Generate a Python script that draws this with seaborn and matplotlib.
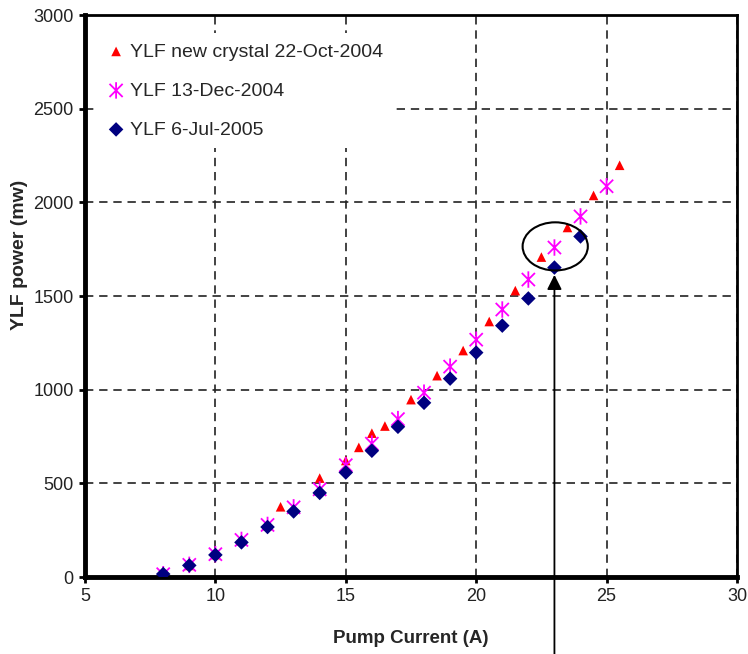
import numpy as np
import pandas as pd
import matplotlib
matplotlib.use('Agg')
import matplotlib.pyplot as plt
from matplotlib.path import Path
from matplotlib.patches import Ellipse
import seaborn as sns

# data
x_oct = [8, 9, 10, 11, 12, 12.5, 14, 15, 15.5, 16, 16.5, 17.5, 18.5, 19.5,
         20.5, 21.5, 22.5, 23.5, 24.5, 25.5]
y_oct = [18, 62, 120, 195, 275, 375, 528, 622, 692, 768, 806, 947, 1075, 1209,
         1364, 1529, 1708, 1866, 2037, 2198]

x_dec = [8, 9, 10, 11, 12, 13, 14, 15, 16, 17, 18, 19, 20, 21, 22, 23, 24, 25]
y_dec = [15, 65, 122, 198, 278, 372, 468, 597, 712, 843, 984, 1123, 1267, 1428,
         1588, 1759, 1925, 2086]

x_jul = [8, 9, 10, 11, 12, 13, 14, 15, 16, 17, 18, 19, 20, 21, 22, 23, 24]
y_jul = [16, 62, 118, 185, 267, 350, 449, 558, 674, 802, 930, 1059, 1198, 1342,
         1487, 1652, 1818]

labels = ['YLF new crystal 22-Oct-2004', 'YLF 13-Dec-2004', 'YLF 6-Jul-2005']

sns.set_style('white')
plt.rcParams['font.family'] = ['Liberation Sans', 'DejaVu Sans']

fig = plt.figure(figsize=(7.48, 6.54), dpi=100)
ax = fig.add_axes([0.1136, 0.1177, 0.8717, 0.8593])

# excel style star: X with a vertical bar
star = Path([(-1, -1), (1, 1), (-1, 1), (1, -1), (0, -1.25), (0, 1.25)],
            [Path.MOVETO, Path.LINETO, Path.MOVETO, Path.LINETO, Path.MOVETO, Path.LINETO])

sns.scatterplot(x=x_oct, y=y_oct, marker='^', color='#ff0000', edgecolor='none',
                s=48, label=labels[0], ax=ax, zorder=3)
sns.scatterplot(x=x_dec, y=y_dec, marker=star, facecolor='none', edgecolor='#ff00ff',
                linewidth=1.3, s=140, label=labels[1], ax=ax, zorder=4)
sns.scatterplot(x=x_jul, y=y_jul, marker='D', color='#000080', edgecolor='none',
                s=55, label=labels[2], ax=ax, zorder=5)

ax.set_xlim(5, 30)
ax.set_ylim(0, 3000)
ax.set_xticks([5, 10, 15, 20, 25, 30])
ax.set_yticks([0, 500, 1000, 1500, 2000, 2500, 3000])

ax.grid(True, color='#222222', linestyle=(0, (5, 3.5)), linewidth=1.2)
ax.set_axisbelow(True)

for side in ['left', 'bottom']:
    ax.spines[side].set_linewidth(3.5)
    ax.spines[side].set_color('black')
for side in ['top', 'right']:
    ax.spines[side].set_linewidth(2)
    ax.spines[side].set_color('black')

ax.tick_params(direction='out', length=4, width=2, color='black',
               labelsize=13, labelcolor='#222222', pad=4, bottom=True, left=True)

ax.set_xlabel('Pump Current (A)', fontsize=13.5, fontweight='bold', labelpad=18)
ax.set_ylabel('YLF power (mw)', fontsize=14, fontweight='bold')
ax.yaxis.set_label_coords(-0.088, 0.573)

leg = ax.legend(loc='upper left', bbox_to_anchor=(0.0, 0.985), frameon=True,
                fontsize=14, labelspacing=1.1, handletextpad=0.1,
                handlelength=1.2, borderpad=0.5, markerscale=1.0)
leg.get_frame().set_edgecolor('none')
leg.get_frame().set_facecolor('white')
leg.get_frame().set_alpha(1)

# circled point and arrow
ax.add_patch(Ellipse((23.03, 1765), width=2.5, height=257, fill=False,
                     edgecolor='black', linewidth=1.5, zorder=6))
ax.annotate('', xy=(23, 1628), xytext=(23, -430),
            arrowprops=dict(arrowstyle='-|>', color='black', lw=1.3, mutation_scale=22),
            annotation_clip=False, zorder=6)

plt.savefig('out.png', dpi=100)
